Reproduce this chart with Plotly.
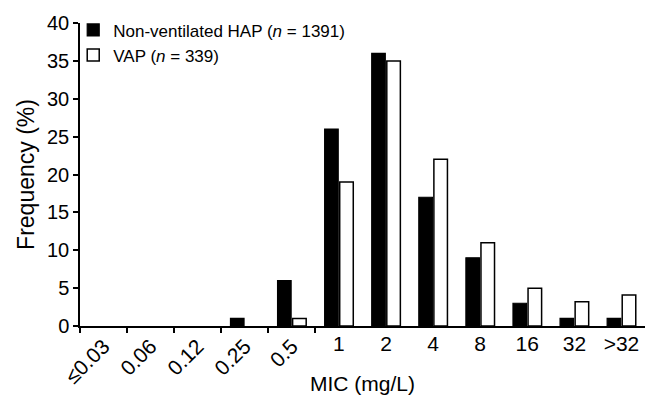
import plotly.graph_objects as go

categories = ["≤0.03", "0.06", "0.12", "0.25", "0.5", "1", "2", "4", "8", "16", "32", ">32"]
hap_values = [0, 0, 0, 1, 6, 26, 36, 17, 9, 3, 1, 1]
vap_values = [0, 0, 0, 0, 1, 19, 35, 22, 11, 5, 3.2, 4.1]
y_ticks = [0, 5, 10, 15, 20, 25, 30, 35, 40]
rotated_labels = categories[:5]
flat_labels = categories[5:]

FONT = "Liberation Sans, Arial, sans-serif"

def drawn(values):
    # zero-frequency bins are left empty (no outline drawn), as in the original
    return [v if v > 0 else None for v in values]

fig = go.Figure()
fig.add_trace(go.Bar(
    x=categories, y=drawn(hap_values), name="Non-ventilated HAP (<i>n</i> = 1391)",
    marker=dict(color="black", line=dict(color="black", width=1.2)),
))
fig.add_trace(go.Bar(
    x=categories, y=drawn(vap_values), name="VAP (<i>n</i> = 339)",
    marker=dict(color="white", line=dict(color="black", width=1.5)),
))
# invisible helper trace carrying the horizontal tick labels on an overlaid axis
fig.add_trace(go.Scatter(
    x=categories, y=[None] * len(categories), xaxis="x2", showlegend=False,
    hoverinfo="skip", mode="markers",
))

fig.update_layout(
    width=661, height=400,
    margin=dict(l=80, r=16, t=23, b=74),
    plot_bgcolor="white", paper_bgcolor="white",
    font=dict(family=FONT, color="black"),
    barmode="group", bargap=0.36, bargroupgap=0.1,
    showlegend=True,
    legend=dict(
        x=-0.012, y=1.035, xanchor="left", yanchor="top",
        font=dict(size=17, family=FONT), bgcolor="rgba(0,0,0,0)",
        itemwidth=30,
    ),
    xaxis=dict(
        type="category", categoryorder="array", categoryarray=categories,
        range=[-0.5, len(categories) - 0.5], automargin=False,
        showline=True, linecolor="black", linewidth=1.5,
        ticks="outside", tickson="boundaries", ticklen=5, tickwidth=1.5, tickcolor="black",
        tickmode="array", tickvals=rotated_labels, ticktext=rotated_labels,
        tickangle=-45, tickfont=dict(size=21, family=FONT), ticklabelstandoff=-2,
        showgrid=False, zeroline=False,
    ),
    xaxis2=dict(
        type="category", categoryorder="array", categoryarray=categories,
        overlaying="x", side="bottom", anchor="y", automargin=False,
        range=[-0.5, len(categories) - 0.5],
        showline=False, ticks="", showgrid=False, zeroline=False,
        tickmode="array", tickvals=flat_labels, ticktext=flat_labels,
        tickangle=0, tickfont=dict(size=21, family=FONT), ticklabelstandoff=3,
        title=dict(text="MIC (mg/L)", font=dict(size=21, family=FONT), standoff=22),
    ),
    yaxis=dict(
        range=[0, 40], tickmode="array", tickvals=y_ticks, automargin=False,
        showline=True, linecolor="black", linewidth=1.5,
        ticks="outside", ticklen=5, tickwidth=1.5, tickcolor="black",
        tickfont=dict(size=20, family=FONT),
        showgrid=False, zeroline=False,
        title=dict(text="Frequency (%)", font=dict(size=23, family=FONT), standoff=6),
    ),
)

fig.write_html("out.html")
